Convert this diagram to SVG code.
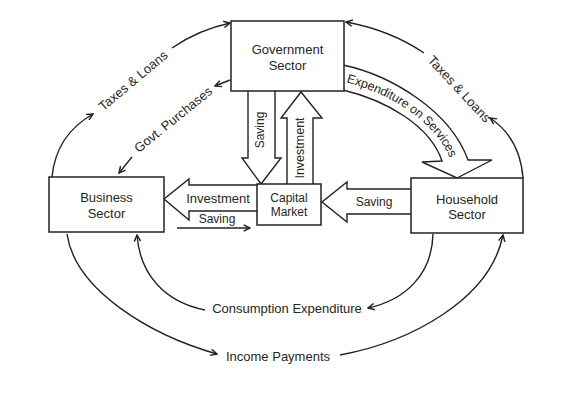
<svg xmlns="http://www.w3.org/2000/svg" width="572" height="400" viewBox="0 0 572 400">
<style>
  .box { fill: #ffffff; stroke: #222222; stroke-width: 1.5; }
  .big { fill: #ffffff; stroke: #222222; stroke-width: 1.4; stroke-linejoin: miter; }
  .flow { fill: none; stroke: #222222; stroke-width: 1.4; marker-end: url(#ah); }
  .plain { fill: none; stroke: #222222; stroke-width: 1.4; }
  text { font-family: "Liberation Sans", Arial, Helvetica, sans-serif; fill: #262626; }
  .nt { font-size: 13px; text-anchor: middle; }
  .lt { font-size: 13px; text-anchor: middle; }
  .st { font-size: 12px; text-anchor: middle; }
</style>
<defs>
  <marker id="ah" viewBox="0 0 10 10" refX="9" refY="5" markerWidth="8" markerHeight="8" markerUnits="userSpaceOnUse" orient="auto">
    <path d="M1,1 L9,5 L1,9" fill="none" stroke="#222222" stroke-width="1.8"/>
  </marker>
  <path id="expPath" d="M343,77.5 C387.5,87.5 440,117.5 455,160.5"/>
</defs>
<rect width="572" height="400" fill="#ffffff"/>

<g id="connectors">
  <!-- Taxes & Loans (left) -->
  <path class="flow" d="M52,177 Q56,135 93,114"/>
  <path class="flow" d="M172,48 Q198,30 230,23"/>
  <!-- Govt. Purchases -->
  <path class="flow" d="M230,80 L215,86"/>
  <path class="flow" d="M132,157 L119,173"/>
  <!-- Taxes & Loans (right) -->
  <path class="flow" d="M523,178 Q520,138 490,118"/>
  <path class="flow" d="M424,53 Q390,30 346,22"/>
  <!-- Expenditure on Services big curved arrow -->
  <path class="big" d="M343,65 C390,75 450,110 468,160 L492,160 L457,178 L422,162 L442,161 C430,125 385,100 343,90"/>
  <!-- Saving (gov to capital market) -->
  <path class="big" d="M248,91 L248,158 L242,158 L261,184 L281,158 L275,158 L275,91"/>
  <!-- Investment (capital market to gov) -->
  <path class="big" d="M287,184 L287,118 L281,118 L301,92 L322,118 L313,118 L313,184"/>
  <!-- Investment (capital market to business) -->
  <path class="big" d="M257,185 L189,185 L189,179 L164,199 L189,220 L189,211 L257,211"/>
  <!-- Saving thin arrow -->
  <path class="flow" d="M177,228 L250,228"/>
  <!-- Saving (household to capital market) -->
  <path class="big" d="M411,189 L347,189 L347,182 L322,202 L347,222 L347,214 L411,214"/>
  <!-- Consumption Expenditure -->
  <path class="flow" d="M433,234 C432,275 405,300 368,308"/>
  <path class="flow" d="M205,310 C165,302 140,275 137,235"/>
  <!-- Income Payments -->
  <path class="flow" d="M67,234 C75,290 150,335 217,354"/>
  <path class="flow" d="M340,355 C410,342 490,300 503,235"/>
</g>

<g id="labels">
  <text class="lt" transform="translate(136,84) rotate(-40)">Taxes &amp; Loans</text>
  <text class="lt" transform="translate(176,123) rotate(-39)">Govt. Purchases</text>
  <text class="lt" transform="translate(456,92) rotate(47)">Taxes &amp; Loans</text>
  <text style="font-size:12.5px;" dy="4"><textPath href="#expPath" startOffset="50%" text-anchor="middle">Expenditure on Services</textPath></text>
  <text class="st" transform="translate(264,130) rotate(-90)">Saving</text>
  <text class="st" style="font-size:12.5px;" transform="translate(304,148) rotate(-90)">Investment</text>
  <text class="lt" x="218" y="203">Investment</text>
  <text class="st" x="217" y="223">Saving</text>
  <text class="st" x="374" y="206">Saving</text>
  <text class="lt" x="287" y="313">Consumption Expenditure</text>
  <text class="lt" x="278" y="361">Income Payments</text>
</g>

<g id="government">
  <rect class="box" x="231" y="21" width="113" height="70"/>
  <text class="nt" x="287.5" y="54">Government</text>
  <text class="nt" x="287.5" y="70">Sector</text>
</g>
<g id="business">
  <rect class="box" x="49" y="177" width="115" height="55"/>
  <text class="nt" x="106.5" y="202">Business</text>
  <text class="nt" x="106.5" y="218">Sector</text>
</g>
<g id="household">
  <rect class="box" x="411" y="178" width="112" height="55"/>
  <text class="nt" x="467" y="204">Household</text>
  <text class="nt" x="467" y="219">Sector</text>
</g>
<g id="capital-market">
  <rect class="box" x="257" y="184" width="64" height="41"/>
  <text class="st" x="289" y="202">Capital</text>
  <text class="st" x="289" y="216">Market</text>
</g>
</svg>
